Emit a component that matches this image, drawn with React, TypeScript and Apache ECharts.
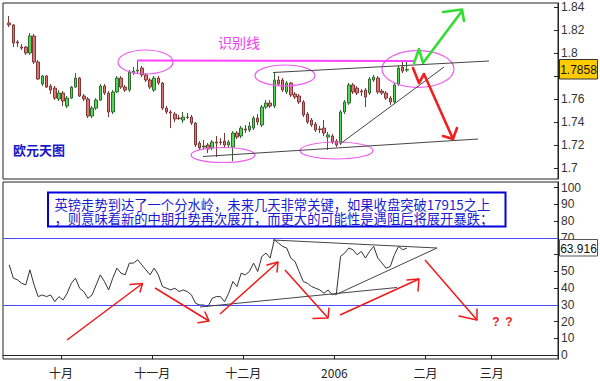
import React, { useEffect, useRef } from "react";
import * as echarts from "echarts";

// ---- data ----
const SLOTS = 134;
const slotNames: string[] = Array.from({ length: SLOTS }, (_, i) => "d" + i);
const monthIdx = [14, 36, 58, 80, 102, 118];
const monthLabels = ["十月", "十一月", "十二月", "2006", "二月", "三月"];
const priceTicks = [1.7, 1.72, 1.74, 1.76, 1.78, 1.8, 1.82, 1.84];
const priceLabels = [1.7, 1.72, 1.74, 1.76, 1.8, 1.82, 1.84];
const rsiTicks = [0, 10, 20, 30, 40, 50, 60, 70, 80, 90, 100];
const rsiLabels = [0, 10, 20, 30, 40, 50, 70, 80, 90, 100];

const opens = [1.8261,1.8244,1.8096,1.8052,1.8052,1.8000,1.8148,1.7922,1.7730,1.7800,
1.7713,1.7695,1.7600,1.7652,1.7539,1.7608,1.7704,1.7782,1.7626,1.7600,
1.7452,1.7521,1.7591,1.7713,1.7652,1.7487,1.7661,1.7782,1.7704,1.7678,
1.7826,1.7843,1.7869,1.7809,1.7765,1.7678,1.7782,1.7739,1.7521,1.7487,
1.7469,1.7434,1.7417,1.7443,1.7443,1.7391,1.7217,1.7182,1.7200,1.7174,
1.7226,1.7226,1.7234,1.7200,1.7182,1.7304,1.7278,1.7339,1.7330,1.7347,
1.7434,1.7374,1.7530,1.7565,1.7539,1.7765,1.7765,1.7661,1.7739,1.7643,
1.7626,1.7574,1.7469,1.7417,1.7382,1.7339,1.7347,1.7269,1.7278,1.7234,
1.7217,1.7487,1.7565,1.7722,1.7695,1.7669,1.7678,1.7652,1.7765,1.7782,
1.7669,1.7652,1.7608,1.7574,1.7730,1.7878,1.7852];
const closes = [1.8244,1.8087,1.8087,1.8043,1.8000,1.8148,1.7922,1.7774,1.7800,1.7704,
1.7678,1.7608,1.7652,1.7582,1.7608,1.7704,1.7782,1.7626,1.7600,1.7452,
1.7521,1.7591,1.7713,1.7652,1.7487,1.7661,1.7782,1.7704,1.7678,1.7835,
1.7843,1.7852,1.7809,1.7765,1.7704,1.7782,1.7739,1.7521,1.7487,1.7478,
1.7426,1.7430,1.7443,1.7440,1.7391,1.7200,1.7174,1.7191,1.7165,1.7226,
1.7217,1.7222,1.7200,1.7226,1.7304,1.7269,1.7347,1.7330,1.7365,1.7434,
1.7400,1.7530,1.7565,1.7539,1.7765,1.7730,1.7678,1.7739,1.7635,1.7617,
1.7574,1.7461,1.7400,1.7374,1.7330,1.7333,1.7304,1.7287,1.7226,1.7200,
1.7487,1.7574,1.7722,1.7661,1.7652,1.7661,1.7617,1.7774,1.7791,1.7661,
1.7652,1.7608,1.7574,1.7722,1.7869,1.7843,1.7858];
const lows = [1.8226,1.8052,1.8052,1.8026,1.7983,1.7983,1.7904,1.7765,1.7713,1.7695,
1.7643,1.7591,1.7582,1.7539,1.7521,1.7600,1.7695,1.7617,1.7582,1.7434,
1.7434,1.7504,1.7582,1.7635,1.7443,1.7469,1.7652,1.7687,1.7661,1.7661,
1.7809,1.7817,1.7791,1.7748,1.7687,1.7661,1.7722,1.7504,1.7469,1.7347,
1.7400,1.7417,1.7391,1.7426,1.7374,1.7182,1.7156,1.7156,1.7130,1.7156,
1.7095,1.7200,1.7182,1.7174,1.7060,1.7252,1.7260,1.7304,1.7313,1.7330,
1.7374,1.7356,1.7513,1.7521,1.7521,1.7713,1.7661,1.7643,1.7617,1.7600,
1.7556,1.7443,1.7382,1.7356,1.7313,1.7304,1.7278,1.7156,1.7208,1.7182,
1.7200,1.7469,1.7548,1.7643,1.7635,1.7626,1.7530,1.7635,1.7748,1.7643,
1.7635,1.7591,1.7548,1.7556,1.7713,1.7826,1.7835];
const highs = [1.8322,1.8252,1.8113,1.8078,1.8061,1.8174,1.8165,1.7939,1.7809,1.7809,
1.7730,1.7713,1.7678,1.7669,1.7626,1.7713,1.7826,1.7791,1.7643,1.7617,
1.7539,1.7608,1.7730,1.7730,1.7669,1.7678,1.7800,1.7800,1.7722,1.7852,
1.7878,1.7939,1.7887,1.7826,1.7782,1.7800,1.7800,1.7748,1.7539,1.7504,
1.7487,1.7461,1.7487,1.7478,1.7461,1.7400,1.7234,1.7243,1.7217,1.7243,
1.7278,1.7260,1.7304,1.7243,1.7321,1.7321,1.7365,1.7374,1.7400,1.7452,
1.7469,1.7548,1.7591,1.7591,1.7835,1.7800,1.7782,1.7757,1.7748,1.7661,
1.7643,1.7591,1.7487,1.7434,1.7400,1.7365,1.7417,1.7313,1.7295,1.7252,
1.7504,1.7591,1.7739,1.7739,1.7713,1.7687,1.7695,1.7791,1.7809,1.7800,
1.7687,1.7669,1.7626,1.7739,1.7887,1.7939,1.7922];
const rsi = [54,46,45,43,42,51,42,35,36,35,
36,32,35,33,37,43,46,40,38,34,
36,42,48,44,39,46,52,49,48,55,
55,57,54,51,48,52,48,41,40,39,
40,38,39,38,36,31,30,30,29,34,
35,35,32,37,44,41,49,48,50,55,
50,59,61,58,69,67,65,64,58,56,
50,44,43,41,40,39,37,39,36,37,
59,61,64,63,60,62,58,62,65,58,
55,52,53,60,65,63,63.916];
const lastPrice = "1.7858";
const lastRsi = "63.916";

const textLines = [
  "英镑走势到达了一个分水岭，未来几天非常关键，如果收盘突破17915之上",
  "，则意味着新的中期升势再次展开，而更大的可能性是遇阻后将展开暴跌；",
];

const CJK = '"Noto Sans CJK SC", sans-serif';
const LAT = '"Liberation Sans", Arial, sans-serif';

function seg(x1: number, y1: number, x2: number, y2: number, stroke: string, lw: number) {
  return { type: "line", silent: true, z: 50, shape: { x1, y1, x2, y2 }, style: { stroke, lineWidth: lw } };
}
function poly(points: number[][], stroke: string, lw: number) {
  return { type: "polyline", silent: true, z: 50, shape: { points }, style: { stroke, lineWidth: lw, fill: null, lineJoin: "round", lineCap: "round" } };
}
function ell(cx: number, cy: number, rx: number, ry: number) {
  return { type: "ellipse", silent: true, z: 49, shape: { cx, cy, rx, ry }, style: { stroke: "#EE5CEE", lineWidth: 1.2, fill: null } };
}
function txt(x: number, y: number, text: string, fill: string, font: string, align = "left", extra: any = {}) {
  return { type: "text", silent: true, z: 90, x, y, style: { text, fill, font, align, verticalAlign: "middle", textAlign: align, textVerticalAlign: "middle", ...extra } };
}

export default function App() {
  const ref = useRef<HTMLDivElement>(null);
  useEffect(() => {
    if (!ref.current) return;
    const chart = echarts.init(ref.current, undefined, { renderer: "svg" });
    const candleData: any[] = [["-", "-", "-", "-"]];
    for (let i = 0; i < opens.length; i++) candleData.push([opens[i], closes[i], lows[i], highs[i]]);
    const rsiData: any[] = ["-", ...rsi];
    const isMonth = (i: number) => monthIdx.indexOf(i) >= 0;
    const red = "#EE1A1A";

    const graphic: any[] = [
      // top panel annotations
      seg(137, 60.5, 415, 61, "#FF44FF", 2),
      txt(218, 42, "识别线", "#F040F0", "14px " + CJK),
      txt(13, 149, "欧元天图", "#1818C8", "bold 13px " + CJK),
      ell(145.5, 62, 27.5, 12),
      ell(285, 75.5, 30, 10.5),
      ell(223, 155, 32, 7.5),
      ell(336.5, 150.5, 36.5, 8.5),
      ell(418, 69, 36, 18.3),
      seg(273, 72.5, 489, 61, "#444", 1),
      seg(203, 156.5, 478, 139, "#444", 1),
      seg(340, 144, 444, 67, "#444", 1),
      poly([[414, 63], [419, 49], [423, 63], [462, 11]], "#33DD33", 2.6),
      poly([[443, 12], [462, 9.5], [464, 21]], "#33DD33", 2.6),
      poly([[413, 68], [419, 83], [424, 74], [453, 139]], "#EE2020", 2.6),
      poly([[443, 136], [453, 139], [457, 128]], "#EE2020", 2.6),
      // price box
      { type: "rect", z: 70, silent: true, shape: { x: 559.5, y: 59.5, width: 38, height: 19.5 }, style: { fill: "#FFCC00", stroke: "#333", lineWidth: 1 } },
      txt(578.5, 69.5, lastPrice, "#111", "12px " + LAT, "center"),
      // bottom panel text box
      { type: "rect", z: 55, silent: true, shape: { x: 48, y: 192.5, width: 457.5, height: 34 }, style: { fill: "#fff", stroke: "#0000DD", lineWidth: 2 } },
      txt(54.5, 211, textLines.join("\n"), "#1A1AD0", "13.3px " + CJK, "left", { lineHeight: 14 }),
      // RSI triangle lines
      seg(200, 307, 397, 287.5, "#444", 1),
      seg(273, 240, 437, 248, "#444", 1),
      seg(335, 295, 437, 248, "#444", 1),
      // red arrows bottom panel
      seg(67, 340, 142.5, 283.5, red, 1.5), poly([[130, 284.5], [142.5, 283.5], [140, 292]], red, 1.5),
      seg(155, 288, 209, 321, red, 1.5), poly([[198, 322.7], [209, 321], [205, 312]], red, 1.5),
      seg(220, 314, 278, 262, red, 1.5), poly([[267, 265], [278, 262], [277, 272]], red, 1.5),
      seg(285, 270, 328, 318, red, 1.5), poly([[313, 318.5], [328, 318], [329, 308]], red, 1.5),
      seg(340, 315, 419, 279, red, 1.5), poly([[407, 280], [419, 279], [418, 291]], red, 1.5),
      seg(425, 260, 477, 320, red, 1.5), poly([[459, 316], [477, 320], [477, 309]], red, 1.5),
      txt(496, 322, "?", red, "bold 12px " + LAT, "center"),
      txt(509, 322, "?", red, "bold 12px " + LAT, "center"),
      // RSI value box
      { type: "rect", z: 70, silent: true, shape: { x: 559.5, y: 239.5, width: 38, height: 16.5 }, style: { fill: "#fff", stroke: "#555", lineWidth: 1 } },
      txt(578.5, 248.5, lastRsi, "#111", "12px " + LAT, "center"),
    ];

    chart.setOption({
      animation: false,
      backgroundColor: "#fff",
      grid: [
        { left: 3, top: 3, width: 555, height: 176, show: true, borderColor: "#222", borderWidth: 1, backgroundColor: "#fff" },
        { left: 3, top: 182, width: 555, height: 177, show: true, borderColor: "#222", borderWidth: 1, backgroundColor: "#fff" },
      ],
      xAxis: [
        {
          type: "category", gridIndex: 0, data: slotNames, boundaryGap: true,
          axisLine: { show: false }, axisTick: { show: false }, axisLabel: { show: false }, splitLine: { show: false },
        },
        {
          type: "category", gridIndex: 1, data: slotNames, boundaryGap: true,
          axisLine: { show: true, lineStyle: { color: "#222", width: 1 } },
          axisTick: { show: true, interval: (i: number) => isMonth(i), length: 4, lineStyle: { color: "#222" } },
          axisLabel: {
            interval: (i: number) => isMonth(i),
            formatter: (_v: string, i: number) => monthLabels[monthIdx.indexOf(i)] ?? "",
            margin: 7, fontSize: 12, color: "#222", fontFamily: CJK, padding: [0, 4, 0, 0],
          },
          splitLine: { show: false },
        },
      ],
      yAxis: [
        {
          type: "value", gridIndex: 0, position: "right", min: 1.69043, max: 1.84348, scale: true,
          axisLine: { show: true, lineStyle: { color: "#222" } },
          axisTick: { show: true, inside: true, length: 4, customValues: priceTicks, lineStyle: { color: "#222" } },
          axisLabel: {
            customValues: priceLabels, margin: 3, fontSize: 12, color: "#333", fontFamily: LAT,
            formatter: (v: number) => v.toFixed(2).replace(/0$/, ""),
          },
          splitLine: { show: false },
        },
        {
          type: "value", gridIndex: 1, position: "right", min: -2.24, max: 103.43,
          axisLine: { show: true, lineStyle: { color: "#222" } },
          axisTick: { show: true, inside: true, length: 4, customValues: rsiTicks, lineStyle: { color: "#222" } },
          axisLabel: { customValues: rsiLabels, margin: 3, fontSize: 12, color: "#333", fontFamily: LAT, lineHeight: 10 },
          splitLine: { show: false },
        },
      ],
      series: [
        {
          type: "candlestick", xAxisIndex: 0, yAxisIndex: 0, data: candleData, barWidth: 3,
          itemStyle: { color: "#55D655", color0: "#DC7676", borderColor: "#2F6A2F", borderColor0: "#7E3838", borderWidth: 1 },
        },
        {
          type: "line", xAxisIndex: 1, yAxisIndex: 1, data: rsiData, symbol: "none",
          lineStyle: { color: "#333", width: 1 },
          markLine: {
            silent: true, symbol: "none", label: { show: false },
            lineStyle: { color: "#4848FF", width: 1, type: "solid" },
            data: [{ yAxis: 70 }, { yAxis: 30 }],
          },
        },
      ],
      graphic,
    });
    return () => chart.dispose();
  }, []);
  return <div ref={ref} style={{ position: "fixed", left: 0, top: 0, width: 600, height: 381, background: "#fff" }} />;
}
